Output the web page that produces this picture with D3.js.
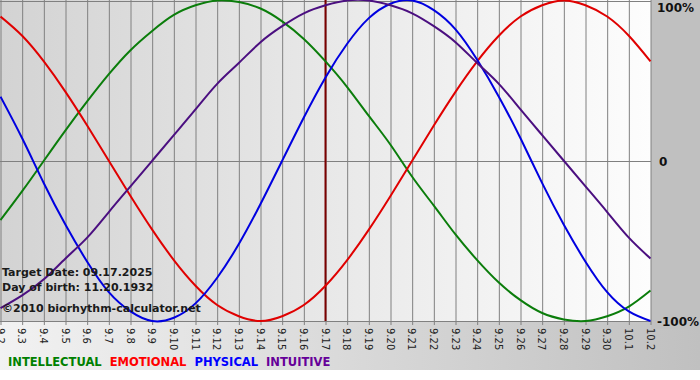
<!DOCTYPE html>
<html>
<head>
<meta charset="utf-8">
<script src="https://cdn.jsdelivr.net/npm/d3@7"></script>
<style>
  body { margin: 0; background: #fff; }
  svg { display: block; }
  text { font-family: "DejaVu Sans", Verdana, sans-serif; }
</style>
</head>
<body>
<div id="chart"></div>
<script>
(function () {
	"use strict";

	var WIDTH = 700;
	var HEIGHT = 380;
	var PLOT_RIGHT = 651;
	var PLOT_BOTTOM = 321;

	var days = ['9.2', '9.3', '9.4', '9.5', '9.6', '9.7', '9.8', '9.9', '9.10', '9.11', '9.12', '9.13',
		'9.14', '9.15', '9.16', '9.17', '9.18', '9.19', '9.20', '9.21', '9.22', '9.23', '9.24', '9.25',
		'9.26', '9.27', '9.28', '9.29', '9.30', '10.1', '10.2'];

	var intellectual = [-0.37, -0.19, 0, 0.19, 0.37, 0.54, 0.69, 0.81, 0.91, 0.97, 1.00, 0.99, 0.95, 0.87,
		0.76, 0.62, 0.46, 0.28, 0.10, -0.10, -0.28, -0.46, -0.62, -0.76, -0.87, -0.95, -0.99, -1.00,
		-0.97, -0.91, -0.81];
	var emotional = [0.90, 0.78, 0.62, 0.43, 0.22, 0, -0.22, -0.43, -0.62, -0.78, -0.90, -0.97, -1.00,
		-0.97, -0.90, -0.78, -0.62, -0.43, -0.22, 0, 0.22, 0.43, 0.62, 0.78, 0.90, 0.97, 1.00, 0.97,
		0.90, 0.78, 0.62];
	var physical = [0.40, 0.14, -0.14, -0.40, -0.63, -0.82, -0.94, -1.00, -0.98, -0.89, -0.73, -0.52,
		-0.27, 0, 0.27, 0.52, 0.73, 0.89, 0.98, 1.00, 0.94, 0.82, 0.63, 0.40, 0.14, -0.14, -0.40,
		-0.63, -0.82, -0.94, -1.00];
	var intuitive = [-0.92, -0.84, -0.74, -0.61, -0.48, -0.32, -0.16, 0, 0.16, 0.32, 0.48, 0.61, 0.74,
		0.84, 0.92, 0.97, 1.00, 1.00, 0.97, 0.92, 0.84, 0.74, 0.61, 0.48, 0.32, 0.16, 0, -0.16, -0.32,
		-0.48, -0.61];

	var seriesNames = ['INTELLECTUAL', 'EMOTIONAL', 'PHYSICAL', 'INTUITIVE'];
	var seriesColors = ['#0b7d0b', '#e00000', '#0000e0', '#4b0f80'];
	var legendColors = ['#008000', '#ff0000', '#0000ff', '#660099'];
	var seriesValues = [intellectual, emotional, physical, intuitive];

	var targetDay = '9.17';
	var infoLines = ['Target Date: 09.17.2025', 'Day of birth: 11.20.1932', '\u00a92010 biorhythm-calculator.net'];
	var yTicks = [1, 0, -1];
	var yTickLabels = ['100%', '0', '-100%'];

	var svg = d3.select('#chart').append('svg')
		.attr('width', WIDTH)
		.attr('height', HEIGHT);

	var defs = svg.append('defs');
	var plotGrad = defs.append('linearGradient').attr('id', 'plotGrad');
	plotGrad.append('stop').attr('offset', '0%').attr('stop-color', '#d3d3d3');
	plotGrad.append('stop').attr('offset', '100%').attr('stop-color', '#fdfdfd');
	var bottomGrad = defs.append('linearGradient').attr('id', 'bottomGrad');
	bottomGrad.append('stop').attr('offset', '0%').attr('stop-color', '#f2f2f2');
	bottomGrad.append('stop').attr('offset', '100%').attr('stop-color', '#c0c0c0');

	// backgrounds
	svg.append('rect').attr('x', 0).attr('y', 0).attr('width', WIDTH).attr('height', 370)
		.attr('fill', 'url(#bottomGrad)');
	svg.append('rect').attr('x', PLOT_RIGHT).attr('y', 0).attr('width', WIDTH - PLOT_RIGHT).attr('height', PLOT_BOTTOM + 8)
		.attr('fill', '#c0c0c0');
	svg.append('rect').attr('x', 0).attr('y', 0).attr('width', PLOT_RIGHT).attr('height', PLOT_BOTTOM)
		.attr('fill', 'url(#plotGrad)');

	var x = d3.scaleLinear().domain([0, days.length - 1]).range([0.5, PLOT_RIGHT - 0.5]);
	var y = d3.scaleLinear().domain([-1, 1]).range([PLOT_BOTTOM, 0.5]);

	// vertical grid + ticks
	svg.append('g')
		.attr('transform', 'translate(0,' + PLOT_BOTTOM + ')')
		.call(d3.axisBottom(x).tickValues(d3.range(days.length)).tickSize(-PLOT_BOTTOM).tickFormat(''))
		.call(function (g) {
			g.select('.domain').remove();
			g.selectAll('line').attr('stroke', '#808080');
		});
	svg.append('g')
		.attr('transform', 'translate(0,' + PLOT_BOTTOM + ')')
		.call(d3.axisBottom(x).tickValues(d3.range(days.length)).tickSize(4).tickFormat(''))
		.call(function (g) {
			g.select('.domain').remove();
			g.selectAll('line').attr('stroke', '#808080');
		});

	// horizontal lines at 100%, 0, -100%
	svg.append('g').selectAll('line')
		.data(yTicks)
		.enter()
		.append('line')
		.attr('x1', 0)
		.attr('x2', PLOT_RIGHT)
		.attr('y1', function (d) { return Math.round(y(d)) + 0.5; })
		.attr('y2', function (d) { return Math.round(y(d)) + 0.5; })
		.attr('stroke', '#808080');

	// day labels, rotated
	svg.append('g').selectAll('text')
		.data(days)
		.enter()
		.append('text')
		.attr('transform', function (d, i) { return 'translate(' + (x(i) - 4) + ',' + (PLOT_BOTTOM + 7) + ') rotate(90)'; })
		.attr('font-size', 10)
		.attr('fill', '#222')
		.text(function (d) { return d; });

	// target day marker
	var targetIndex = days.indexOf(targetDay);
	svg.append('line')
		.attr('x1', x(targetIndex)).attr('x2', x(targetIndex))
		.attr('y1', 0).attr('y2', PLOT_BOTTOM)
		.attr('stroke', '#7a0000')
		.attr('stroke-width', 2);

	// curves
	var line = d3.line()
		.x(function (d, i) { return x(i); })
		.y(function (d) { return y(d); })
		.curve(d3.curveNatural);

	svg.append('g').selectAll('path')
		.data(seriesValues)
		.enter()
		.append('path')
		.attr('d', line)
		.attr('fill', 'none')
		.attr('stroke', function (d, i) { return seriesColors[i]; })
		.attr('stroke-width', 2);

	// right labels
	svg.append('g').selectAll('text')
		.data(yTicks)
		.enter()
		.append('text')
		.attr('x', function (d) { return d === 0 ? 659 : 657; })
		.attr('y', function (d) { return d === 1 ? 12 : y(d) + 5; })
		.attr('font-size', 12)
		.attr('font-weight', 'bold')
		.attr('fill', '#111')
		.text(function (d, i) { return yTickLabels[i]; });

	// info text
	svg.append('g').selectAll('text')
		.data(infoLines)
		.enter()
		.append('text')
		.attr('x', 2)
		.attr('y', function (d, i) { return [276, 291, 312][i]; })
		.attr('font-size', 11)
		.attr('font-weight', 'bold')
		.attr('fill', '#1a1a1a')
		.text(function (d) { return d; });

	// legend
	var legend = svg.append('text')
		.attr('x', 8)
		.attr('y', 366)
		.attr('font-size', 11.5)
		.attr('font-weight', 'bold');
	legend.selectAll('tspan')
		.data(seriesNames)
		.enter()
		.append('tspan')
		.attr('fill', function (d, i) { return legendColors[i]; })
		.attr('dx', function (d, i) { return i === 0 ? 0 : 8; })
		.text(function (d) { return d; });
}());
</script>
</body>
</html>
